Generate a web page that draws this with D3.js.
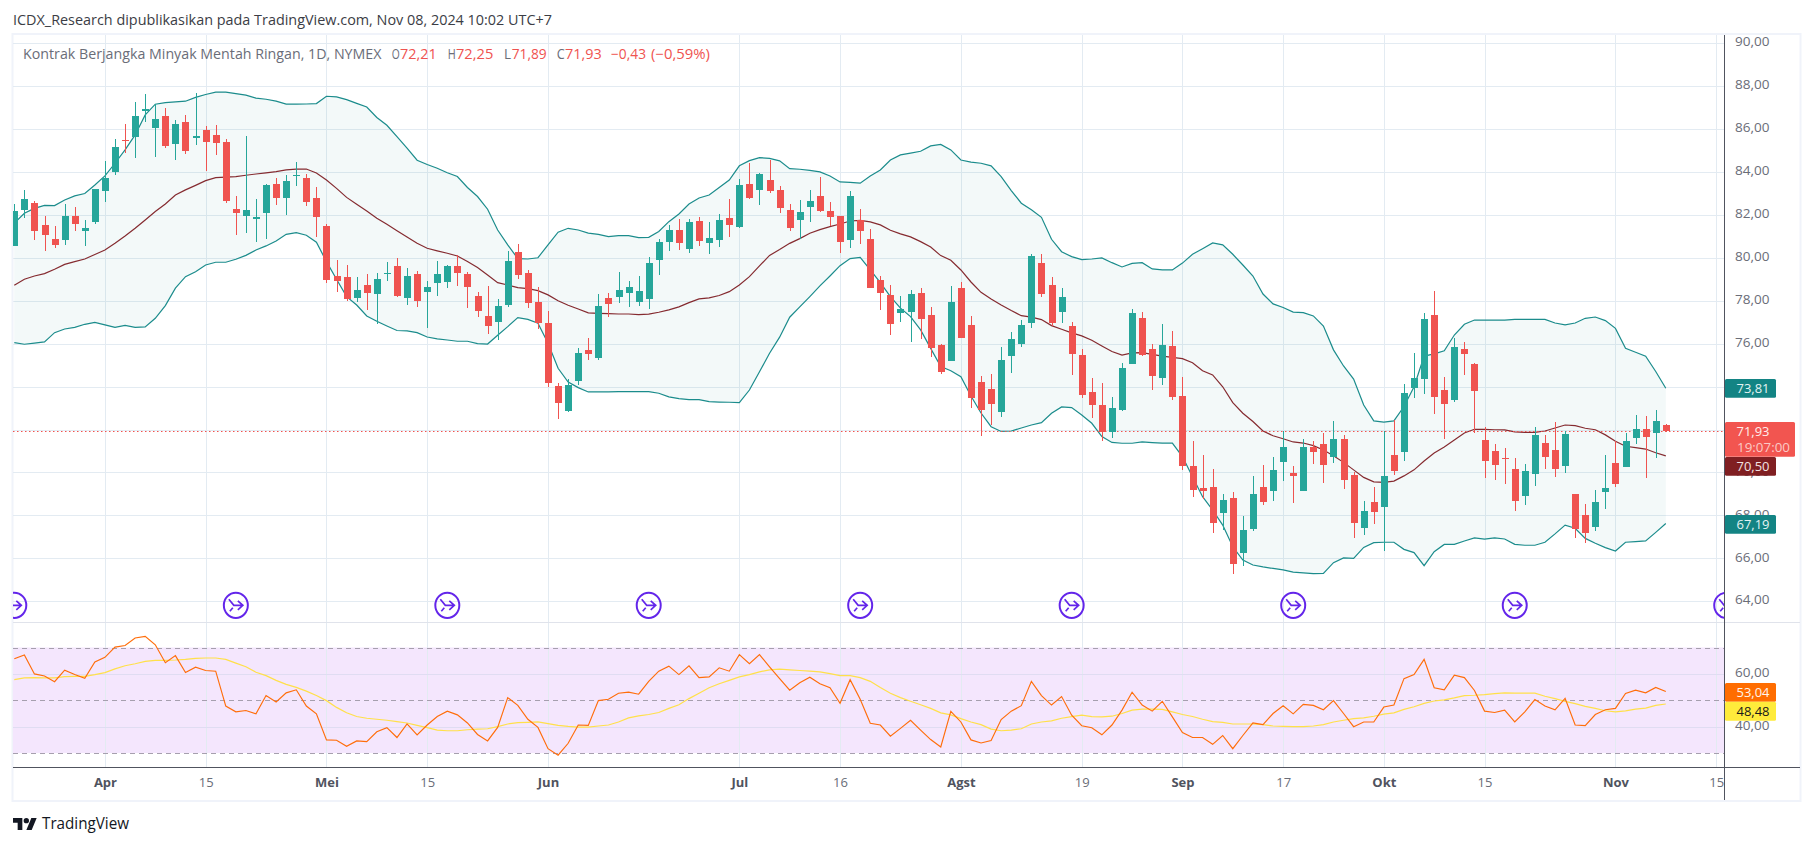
<!DOCTYPE html>
<html><head><meta charset="utf-8">
<script src="https://cdn.jsdelivr.net/npm/d3@7"></script>
<style>html,body{margin:0;padding:0;background:#fff}svg{display:block}text{font-family:"Open Sans",sans-serif}</style>
</head><body><svg id="c" width="1814" height="846"></svg>
<script>
const opens=[80.56,82.20,82.55,81.53,80.87,80.83,81.95,81.26,81.67,83.11,84.00,85.49,85.63,86.85,86.05,86.60,85.30,86.32,85.59,85.95,85.72,85.39,82.27,81.95,81.82,82.09,83.44,82.78,83.81,83.72,82.78,81.48,79.15,79.11,78.13,78.73,78.31,79.24,79.62,78.13,79.24,78.41,78.82,78.87,79.62,79.24,78.22,77.29,77.01,77.80,80.27,79.29,77.94,76.96,74.03,72.86,74.26,75.71,75.33,78.13,78.17,78.36,77.94,78.08,79.90,80.73,81.29,80.41,81.71,80.69,80.83,81.85,81.43,83.44,83.16,83.62,83.16,82.23,81.76,82.36,82.88,82.18,81.95,80.83,81.76,80.87,78.96,78.27,77.41,77.47,78.36,77.33,75.94,75.19,78.59,76.87,74.21,73.89,72.82,75.43,75.98,76.96,79.76,78.73,77.47,76.82,75.47,73.75,73.14,71.89,72.91,75.05,77.19,75.75,74.40,75.89,73.56,70.30,69.28,69.32,68.11,68.81,66.25,67.37,69.32,69.14,70.49,69.97,69.14,71.19,71.33,70.72,71.56,69.88,67.41,68.62,68.39,70.81,70.95,73.94,74.35,77.33,73.84,73.38,75.75,75.05,71.51,71.00,70.67,70.16,68.90,69.93,71.37,71.05,70.30,68.99,68.02,67.46,69.09,70.44,70.25,71.61,72.02,71.84,72.21];
const highs=[82.50,83.16,82.65,81.95,81.48,82.50,82.36,81.76,83.20,84.49,85.53,86.23,87.26,87.63,87.16,86.98,86.42,86.65,87.67,86.14,86.18,85.53,82.88,85.67,82.74,83.44,83.72,83.86,84.46,83.90,83.30,81.57,79.90,79.66,79.11,79.24,79.29,79.80,79.99,79.52,79.38,78.92,79.85,79.66,80.13,79.34,78.41,78.69,78.08,80.32,80.64,79.43,78.64,77.52,74.17,74.35,75.80,76.26,78.31,78.36,79.34,78.92,79.15,80.04,80.87,81.53,81.81,81.81,81.90,81.67,82.04,82.74,83.67,84.41,83.95,84.55,83.34,82.50,82.69,83.16,83.76,82.60,81.95,83.11,82.27,81.34,79.15,78.73,78.22,78.50,78.59,77.71,75.98,78.69,78.87,77.29,74.49,74.59,75.84,76.54,77.10,80.18,80.18,79.11,78.59,77.01,75.75,74.40,74.17,73.52,75.10,77.61,77.47,75.98,76.91,76.59,74.45,71.47,70.81,70.16,68.99,69.09,67.97,69.84,70.35,70.72,71.93,70.30,71.56,71.47,71.84,72.40,71.75,70.02,68.67,69.32,71.93,72.45,74.12,75.57,77.43,78.45,74.45,76.26,76.08,75.10,72.12,71.33,71.14,70.67,70.40,72.12,71.75,72.35,71.93,68.99,68.53,69.18,70.81,71.47,71.84,72.68,72.63,72.91,72.25];
const lows=[80.56,81.84,80.83,80.33,80.47,80.60,81.25,80.55,81.57,82.61,83.86,84.88,84.66,86.32,84.71,85.11,84.55,84.83,85.25,84.04,84.79,82.55,81.06,81.15,80.74,80.87,82.46,81.99,83.34,82.41,80.97,78.82,78.41,78.00,77.94,77.57,76.93,78.92,78.17,77.80,77.71,76.73,78.22,78.59,78.69,77.66,77.24,76.45,76.17,77.71,79.01,77.66,76.68,73.98,72.49,72.82,74.07,75.24,75.24,77.24,77.89,77.71,77.75,77.61,79.20,80.32,80.36,80.22,80.55,80.18,80.50,80.97,81.39,82.74,82.46,83.02,82.09,81.25,80.87,81.67,82.13,81.48,80.22,80.46,80.64,78.59,77.57,76.40,77.01,76.08,76.22,75.38,74.59,75.19,76.26,73.02,71.71,72.21,72.60,74.63,75.84,76.73,78.17,76.82,76.96,74.54,73.47,72.54,71.47,71.61,72.86,75.05,75.43,73.84,74.07,73.38,70.12,68.86,68.76,67.18,67.32,65.27,65.64,67.27,68.48,68.67,69.60,68.58,69.14,70.40,69.51,70.44,69.23,66.95,67.09,67.60,66.34,69.88,70.53,73.47,73.65,72.72,71.56,73.28,74.54,71.84,69.74,69.65,69.46,68.21,68.49,69.37,70.16,69.79,69.97,66.95,66.71,67.27,68.30,69.32,70.25,71.33,69.74,70.67,71.89];
const closes=[82.18,82.74,81.26,81.06,80.60,81.95,81.57,81.39,83.20,83.72,85.16,85.44,86.60,86.93,86.46,85.21,86.23,84.97,85.67,85.39,85.35,82.65,82.09,82.23,81.90,83.39,82.78,83.58,83.87,82.60,81.90,78.96,78.92,78.10,78.50,78.36,79.01,79.29,78.22,79.15,77.99,78.64,79.24,79.62,79.29,78.64,77.52,76.82,77.75,79.85,79.20,77.89,76.96,74.17,73.24,74.07,75.57,75.52,77.75,77.85,78.50,78.64,78.45,79.76,80.73,81.29,80.69,81.67,80.78,80.92,81.76,81.53,83.39,82.78,83.90,83.11,82.32,81.39,82.13,82.65,82.18,81.90,80.73,82.88,81.25,78.59,78.36,76.91,77.61,78.31,77.15,75.80,74.68,77.94,76.26,73.47,72.91,73.19,75.24,76.22,76.87,80.08,78.31,76.96,78.17,75.52,73.61,73.14,71.89,73.00,74.87,77.43,75.47,74.49,75.94,73.52,70.30,69.18,69.14,67.65,68.72,65.74,67.32,68.99,68.62,70.12,71.19,69.83,71.19,70.95,70.35,71.56,69.65,67.65,68.21,68.16,69.84,70.07,73.70,74.40,77.15,73.52,73.19,75.84,75.52,73.79,70.53,70.35,70.63,68.67,70.07,71.75,70.72,70.16,71.79,67.37,67.18,68.62,69.28,69.46,71.47,72.02,71.65,72.40,71.93];
const bbUpper=[81.61,82.07,82.30,82.44,82.43,82.69,82.88,82.99,83.39,83.81,84.40,85.02,85.72,86.65,87.15,87.22,87.26,87.29,87.47,87.60,87.71,87.71,87.64,87.57,87.43,87.38,87.29,87.15,87.15,87.16,87.18,87.52,87.49,87.36,87.19,87.02,86.53,86.17,85.64,85.10,84.54,84.34,84.17,83.96,83.78,83.27,82.85,82.26,81.29,80.60,79.96,79.94,80.00,80.60,81.19,81.37,81.29,81.15,81.09,80.98,81.03,81.03,80.94,80.95,81.22,81.68,82.04,82.50,82.78,82.92,83.27,83.62,84.28,84.52,84.66,84.63,84.51,84.15,84.12,84.07,84.00,83.81,83.53,83.51,83.47,83.81,84.09,84.55,84.79,84.87,84.96,85.21,85.28,85.02,84.55,84.45,84.40,84.28,83.78,83.13,82.54,82.23,81.88,80.86,80.28,80.05,79.91,79.94,79.99,79.77,79.57,79.74,79.77,79.48,79.43,79.43,79.75,80.16,80.42,80.69,80.60,80.16,79.66,79.15,78.31,77.85,77.68,77.47,77.44,77.29,76.82,75.71,74.96,74.35,73.14,72.40,72.34,72.40,73.07,73.99,75.42,75.52,75.67,76.40,76.90,77.10,77.09,77.09,77.09,77.13,77.13,77.13,77.13,76.96,76.87,76.96,77.18,77.24,77.07,76.71,75.78,75.60,75.41,74.70,73.92];
const bbBasis=[78.72,79.00,79.15,79.26,79.46,79.69,79.82,79.94,80.15,80.36,80.67,81.01,81.37,81.76,82.15,82.50,82.92,83.16,83.37,83.59,83.73,83.75,83.78,83.84,83.90,83.95,84.01,84.09,84.13,84.13,83.95,83.62,83.23,82.81,82.49,82.18,81.84,81.56,81.26,80.97,80.67,80.44,80.32,80.21,80.08,79.82,79.54,79.20,78.84,78.73,78.61,78.56,78.47,78.27,78.00,77.79,77.61,77.43,77.41,77.40,77.38,77.38,77.35,77.37,77.46,77.57,77.71,77.91,78.08,78.13,78.24,78.42,78.73,79.12,79.62,80.11,80.38,80.67,80.89,81.14,81.31,81.45,81.57,81.71,81.74,81.67,81.53,81.28,81.11,80.97,80.75,80.50,80.10,79.88,79.43,78.87,78.39,78.08,77.80,77.54,77.30,77.23,77.12,76.84,76.67,76.50,76.36,76.16,75.89,75.63,75.47,75.57,75.58,75.50,75.42,75.36,75.30,75.11,74.74,74.54,73.99,73.25,72.76,72.37,71.93,71.71,71.57,71.42,71.37,71.25,71.05,70.78,70.47,70.12,69.77,69.56,69.54,69.60,69.84,70.12,70.53,70.91,71.19,71.51,71.84,72.01,72.01,71.99,71.98,71.89,71.87,71.87,71.93,72.07,72.21,72.18,72.06,71.99,71.75,71.45,71.22,71.16,71.09,70.92,70.77];
const bbLower=[76.05,75.97,76.02,76.08,76.51,76.68,76.76,76.90,76.99,76.87,76.76,76.85,76.76,76.78,77.18,77.77,78.58,79.12,79.35,79.66,79.79,79.79,79.93,80.11,80.36,80.55,80.78,81.09,81.17,81.05,80.72,79.82,79.00,78.19,77.80,77.29,77.04,76.82,76.61,76.59,76.51,76.31,76.22,76.17,76.11,76.11,76.00,75.98,76.39,76.79,77.21,77.13,76.95,76.02,74.85,74.21,73.95,73.75,73.75,73.75,73.76,73.76,73.76,73.76,73.69,73.52,73.44,73.39,73.39,73.30,73.28,73.27,73.25,73.84,74.69,75.55,76.30,77.23,77.71,78.19,78.69,79.15,79.63,79.96,80.02,79.43,78.84,78.19,77.65,77.26,76.64,75.78,74.93,74.74,74.46,73.56,72.77,72.13,71.91,71.93,72.07,72.21,72.32,72.76,73.05,73.02,72.68,72.29,71.67,71.40,71.36,71.36,71.42,71.39,71.37,71.37,70.74,69.80,68.87,68.25,67.55,66.54,65.92,65.69,65.60,65.53,65.46,65.36,65.32,65.29,65.30,65.80,66.02,66.00,66.51,66.73,66.75,66.75,66.42,66.27,65.66,66.31,66.65,66.65,66.81,66.95,66.90,66.95,66.90,66.65,66.61,66.61,66.75,67.14,67.55,67.40,66.93,66.70,66.50,66.34,66.75,66.78,66.81,67.21,67.62];
const rsi=[65.77,67.18,60.00,59.23,57.05,61.41,59.74,58.33,64.49,66.28,70.13,70.77,73.59,74.23,71.02,64.23,66.92,60.51,62.56,61.28,61.03,47.82,45.64,46.15,44.87,51.79,49.36,52.82,53.97,47.82,44.87,35.00,34.87,32.56,34.62,34.36,38.08,39.62,35.90,41.03,36.92,40.64,43.85,45.90,44.49,41.41,37.05,34.62,39.74,51.02,48.08,42.82,39.74,31.67,29.23,33.72,40.64,40.51,49.87,50.38,52.69,53.08,52.31,57.18,61.03,62.95,59.74,63.08,58.59,58.85,62.31,61.03,67.31,63.85,67.31,62.69,58.20,53.85,56.67,58.72,56.28,54.74,48.85,57.82,50.38,41.28,40.64,36.41,39.36,42.44,38.72,35.13,32.31,45.77,41.79,35.00,33.85,34.74,42.69,45.90,47.95,57.18,51.79,48.20,51.41,44.36,40.38,39.62,36.92,40.64,46.28,53.08,48.20,45.90,49.62,43.72,37.82,35.90,35.90,33.33,36.67,31.67,36.67,41.41,40.77,45.00,47.95,44.87,48.46,48.08,46.41,49.87,45.00,40.00,41.79,41.79,47.44,48.20,58.20,59.74,65.51,54.74,53.97,59.49,58.59,53.72,45.90,45.38,46.28,41.79,45.64,50.26,47.82,46.41,50.77,40.64,40.38,44.62,46.41,46.92,52.56,53.85,52.82,54.87,53.33];
const rsiMA=[57.82,58.46,58.59,58.46,58.46,58.97,59.10,59.10,59.74,60.51,61.92,63.08,63.85,64.74,65.13,65.13,65.26,65.51,65.90,66.02,66.02,65.51,64.10,62.69,60.64,59.36,57.56,56.02,54.87,53.46,51.79,49.87,47.31,45.26,43.85,43.21,42.82,42.44,41.92,41.41,40.51,39.62,38.72,38.46,38.46,38.85,39.10,39.23,40.00,41.03,41.54,41.67,41.79,41.15,40.51,40.13,39.87,39.87,40.26,40.64,41.79,43.33,44.10,44.62,45.38,46.92,48.33,50.64,52.69,54.74,56.28,57.56,58.85,59.74,60.77,61.54,61.79,61.54,61.28,61.03,60.77,60.13,59.36,59.36,58.59,57.18,54.87,52.69,51.02,49.62,48.33,46.92,45.26,44.49,43.08,41.79,40.77,39.10,38.46,38.72,39.23,41.03,41.79,42.18,43.21,43.85,44.36,43.85,43.72,43.97,45.00,46.28,46.67,46.67,46.54,45.64,44.62,43.85,42.82,41.92,41.67,41.03,41.03,41.03,40.77,40.26,40.13,40.00,40.00,40.26,40.77,41.79,42.44,43.08,43.33,43.97,44.74,45.26,46.54,47.56,48.85,49.74,50.13,50.90,51.79,51.92,52.18,52.56,52.82,52.69,52.69,52.69,51.54,50.64,49.62,48.72,47.69,46.92,46.03,45.64,46.03,46.67,47.05,48.07,48.59];
const priceTicks=[64,66,68,70,72,74,76,78,80,82,84,86,88,90];
const priceTickLabels=[64,66,68,70,76,78,80,82,84,86,88,90];
const rsiTicks=[40,60];
const rsiBands=[70,50,30];
const timeTickBars=[9,19,31,41,53,72,82,94,106,116,126,136,146,159,169];
const timeTickLabels=["Apr","15","Mei","15","Jun","Jul","16","Agst","19","Sep","17","Okt","15","Nov","15"];
const rolloverBars=[0,22,43,63,84,105,127,149,170];

const C={up:"#26A69A",down:"#EF5350",grid:"#E3EBF2",axis:"#50535E",txt:"#6A6D78",bb:"#1B8C8C",basis:"#852B30",frame:"#F0F3FA"};
const svg=d3.select("#c");
const PL=13,PR=1724,PT=35,PB=767,SEP=622;
const x=d3.scaleLinear().domain([0,164]).range([14.3,1665.8]);
const y=d3.scaleLinear().domain([64,90]).range([601.3,43]);
const yR=d3.scaleLinear().domain([30,70]).range([753.1,647.5]);
const comma=v=>d3.format(".2f")(v).replace(".",",");
const defs=svg.append("defs");
defs.append("clipPath").attr("id","main").append("rect").attr("x",PL).attr("y",PT).attr("width",PR-PL).attr("height",SEP-PT);
defs.append("clipPath").attr("id","lower").append("rect").attr("x",PL).attr("y",SEP).attr("width",PR-PL).attr("height",PB-SEP);

// header
svg.append("text").attr("x",13).attr("y",25).attr("font-size",14).attr("fill","#3B3D45").attr("textLength",539).attr("lengthAdjust","spacingAndGlyphs")
 .text("ICDX_Research dipublikasikan pada TradingView.com, Nov 08, 2024 10:02 UTC+7");

// frame
svg.append("rect").attr("x",12.5).attr("y",34).attr("width",1788).attr("height",767).attr("fill","none").attr("stroke",C.frame).attr("stroke-width",2);

// RSI band behind grid
svg.append("rect").attr("x",PL).attr("width",PR-PL).attr("y",yR(70)).attr("height",yR(30)-yR(70)).attr("fill","#F4E6FD");

// grid
const crisp=v=>Math.round(v)+.5;
svg.append("g").selectAll("line").data(timeTickBars).join("line").attr("x1",d=>crisp(x(d))).attr("x2",d=>crisp(x(d))).attr("y1",PT).attr("y2",PB).attr("stroke",C.grid);
svg.append("g").selectAll("line").data(priceTicks).join("line").attr("x1",PL).attr("x2",PR).attr("y1",d=>crisp(y(d))).attr("y2",d=>crisp(y(d))).attr("stroke",C.grid);
svg.append("g").selectAll("line").data(rsiTicks).join("line").attr("x1",PL).attr("x2",PR).attr("y1",d=>crisp(yR(d))).attr("y2",d=>crisp(yR(d))).attr("stroke","#E0DCF2");
svg.append("g").selectAll("line").data(rsiBands).join("line").attr("x1",PL).attr("x2",PR).attr("y1",d=>crisp(yR(d))).attr("y2",d=>crisp(yR(d))).attr("stroke","#A69FAE").attr("stroke-dasharray","5 4");

// main pane
const m=svg.append("g").attr("clip-path","url(#main)");
const idx=d3.range(opens.length);
m.append("path").attr("fill","#1B8C8C").attr("fill-opacity",.05)
 .attr("d",d3.area().x(i=>x(i)).y0(i=>y(bbLower[i])).y1(i=>y(bbUpper[i]))(idx));
const ln=(arr,sc)=>d3.line().x(i=>x(i)).y(i=>sc(arr[i]))(idx);
[[bbUpper,C.bb],[bbLower,C.bb],[bbBasis,C.basis]].forEach(([a,c])=>m.append("path").attr("d",ln(a,y)).attr("fill","none").attr("stroke",c).attr("stroke-width",1.2));
m.append("line").attr("x1",PL).attr("x2",PR).attr("y1",crisp(y(closes[closes.length-1]))).attr("y2",crisp(y(closes[closes.length-1]))).attr("stroke",C.down).attr("stroke-dasharray","1.5 2.5");
const col=i=>closes[i]>=opens[i]?C.up:C.down;
m.append("g").selectAll("line").data(idx).join("line").attr("shape-rendering","crispEdges")
 .attr("x1",i=>crisp(x(i))).attr("x2",i=>crisp(x(i))).attr("y1",i=>y(highs[i])).attr("y2",i=>y(lows[i])).attr("stroke",col);
m.append("g").selectAll("rect").data(idx).join("rect").attr("shape-rendering","crispEdges")
 .attr("x",i=>Math.round(x(i))-3).attr("width",7)
 .attr("y",i=>y(Math.max(opens[i],closes[i])))
 .attr("height",i=>Math.max(1.2,Math.abs(y(opens[i])-y(closes[i])))).attr("fill",col);

// rollover marks
const ic=m.append("g").selectAll("g").data(rolloverBars).join("g").attr("transform",d=>`translate(${x(d)},605.3)`).attr("fill","none").attr("stroke","#6325EA");
ic.append("ellipse").attr("rx",12).attr("ry",12.6).attr("stroke-width",2);
ic.append("path").attr("stroke-width",1.7).attr("d","M-7,-6 L-2,0 L6,0 M2,-4.5 L7,0 L2,4.5 M-6,6 L-3,2.5");

// RSI lines
const r=svg.append("g").attr("clip-path","url(#lower)");
r.append("path").attr("d",ln(rsiMA,yR)).attr("fill","none").attr("stroke","#FFE04A").attr("stroke-width",1.2);
r.append("path").attr("d",ln(rsi,yR)).attr("fill","none").attr("stroke","#FF6D0A").attr("stroke-width",1.15);

// axis lines
svg.append("line").attr("x1",PL).attr("x2",1800).attr("y1",622.5).attr("y2",622.5).attr("stroke","#E0E3EB").attr("stroke-width",1);
svg.append("line").attr("x1",PL).attr("x2",1800).attr("y1",767.5).attr("y2",767.5).attr("stroke",C.axis).attr("stroke-width",1);
svg.append("line").attr("x1",1724.5).attr("x2",1724.5).attr("y1",35).attr("y2",800).attr("stroke",C.axis).attr("stroke-width",1);

// axes
const styleAxis=g=>{g.select(".domain").remove();g.selectAll("line").remove();g.selectAll("text").attr("font-family",'"Open Sans",sans-serif').attr("font-size",13).attr("fill",C.txt);};
svg.append("g").attr("transform","translate(1725,-1.5)").call(d3.axisRight(y).tickValues(priceTickLabels).tickFormat(comma).tickSize(0).tickPadding(10)).call(styleAxis).selectAll("text").attr("textLength",34.5).attr("lengthAdjust","spacingAndGlyphs");
svg.append("g").attr("transform","translate(1725,-1.5)").call(d3.axisRight(yR).tickValues(rsiTicks).tickFormat(comma).tickSize(0).tickPadding(10)).call(styleAxis).selectAll("text").attr("textLength",34.5).attr("lengthAdjust","spacingAndGlyphs");
const tAxis=svg.append("g").attr("transform","translate(0,767)").call(d3.axisBottom(x).tickValues(timeTickBars).tickFormat((d,i)=>timeTickLabels[i]).tickSize(0).tickPadding(11)).call(styleAxis);
tAxis.selectAll("text").attr("font-weight",(d,i)=>isNaN(timeTickLabels[i])?700:400).attr("fill",(d,i)=>isNaN(timeTickLabels[i])?C.axis:C.txt);

// legend
const legend=[["Kontrak Berjangka Minyak Mentah Ringan, 1D, NYMEX",23,358.5,C.txt],["O",391.7,8,C.txt],["72,21",400,36.7,C.down],["H",447.7,8,C.txt],["72,25",456,37.3,C.down],["L",504,7,C.txt],["71,89",511.7,35,C.down],["C",556.7,8,C.txt],["71,93",565,36.7,C.down],["−0,43",611,35,C.down],["(−0,59%)",651,59,C.down]];
svg.append("g").selectAll("text").data(legend).join("text").attr("x",d=>d[1]).attr("y",59).attr("font-size",14).attr("fill",d=>d[3]).attr("textLength",d=>d[2]).attr("lengthAdjust","spacingAndGlyphs").text(d=>d[0]);

// price labels
const labels=[
 {t:"73,81",y0:379,y1:397.7,w:51,bg:"#138484",fg:"#E4F3F3"},
 {t:"67,19",y0:515,y1:533.7,w:51,bg:"#138484",fg:"#E4F3F3"},
 {t:"71,93",y0:422,y1:456.7,w:70,bg:"#F25550",fg:"#FFEDEC",sub:"19:07:00"},
 {t:"70,50",y0:457,y1:475.7,w:51,bg:"#801F22",fg:"#F3E3E3"},
 {t:"53,04",y0:683,y1:701.7,w:51,bg:"#FF6D00",fg:"#FFF5EC"},
 {t:"48,48",y0:701.7,y1:720.7,w:51,bg:"#FFEB3B",fg:"#1A1A1A"}];
labels.forEach(l=>{
 svg.append("rect").attr("x",1725).attr("y",l.y0).attr("width",l.w).attr("height",l.y1-l.y0).attr("rx",1.5).attr("fill",l.bg);
 svg.append("text").attr("x",1736.5).attr("y",l.y0+14).attr("font-size",13).attr("fill",l.fg).attr("textLength",33).attr("lengthAdjust","spacingAndGlyphs").text(l.t);
 if(l.sub) svg.append("text").attr("x",1737).attr("y",l.y0+29.5).attr("font-size",13).attr("fill","#FBC9C6").attr("textLength",53).attr("lengthAdjust","spacingAndGlyphs").text(l.sub);
});

// logo
const lg=svg.append("g").attr("transform","translate(13,815.3) scale(.667)").attr("fill","#131722");
lg.append("path").attr("d","M14 22H7V11H0V4h14v18zM28 22h-8l7.5-18h8L28 22z");
lg.append("circle").attr("cx",20).attr("cy",8).attr("r",4);
svg.append("text").attr("x",42).attr("y",829).attr("font-size",16).attr("fill","#131722").attr("textLength",87).attr("lengthAdjust","spacingAndGlyphs").text("TradingView");
</script></body></html>
